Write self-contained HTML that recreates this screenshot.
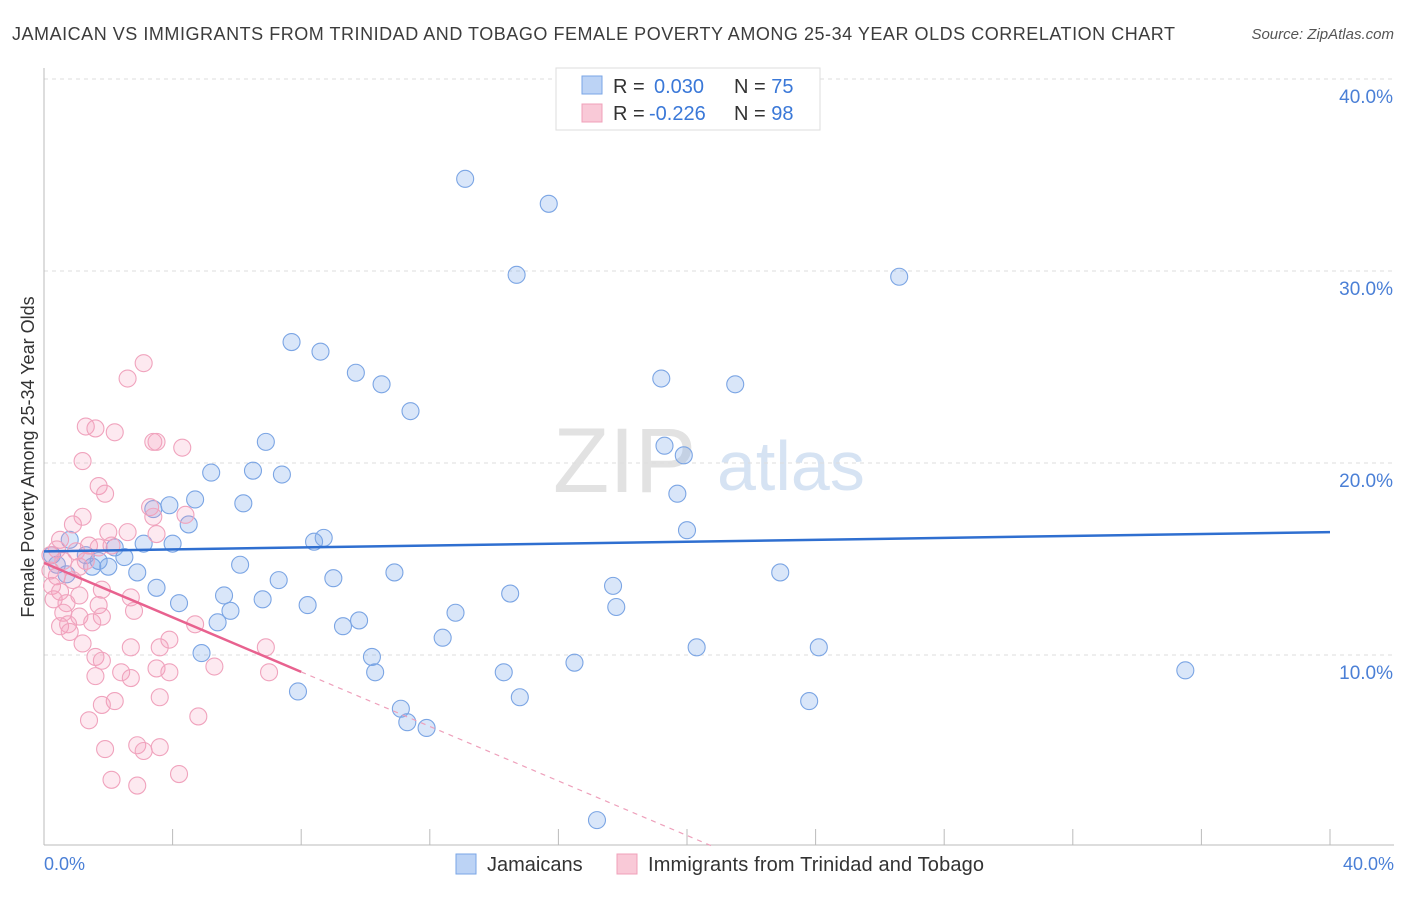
<!DOCTYPE html>
<html><head><meta charset="utf-8"><style>
body{margin:0;background:#fff;font-family:"Liberation Sans",sans-serif;}
svg text{font-family:"Liberation Sans",sans-serif;}
</style></head><body>
<svg id="chart" width="1406" height="892" viewBox="0 0 1406 892" xmlns="http://www.w3.org/2000/svg">
<text x="12" y="40" font-size="18" fill="#3c3c3c" textLength="1163" lengthAdjust="spacing">JAMAICAN VS IMMIGRANTS FROM TRINIDAD AND TOBAGO FEMALE POVERTY AMONG 25-34 YEAR OLDS CORRELATION CHART</text>
<text x="1394" y="39" font-size="15" fill="#555" text-anchor="end" font-style="italic">Source: ZipAtlas.com</text>
<g>
<text x="553" y="492" font-size="92" font-family="Liberation Serif,serif" fill="#e2e2e2">ZIP</text>
<text x="717" y="490" font-size="70" fill="#d6e3f3">atlas</text>
</g>
<g id="grid"></g>
<g id="axes"></g>
<g id="pts"></g>
<g id="trend"></g>
<text transform="translate(34,457) rotate(-90)" font-size="18" fill="#333" text-anchor="middle">Female Poverty Among 25-34 Year Olds</text>
<text x="44" y="870" font-size="18" fill="#4a7fd6">0.0%</text>
<text x="1394" y="870" font-size="18" fill="#4a7fd6" text-anchor="end">40.0%</text>
<g>
<rect x="556" y="68" width="264" height="62" fill="#fff" stroke="#ddd"/>
<rect x="582" y="76" width="20" height="18" fill="#bcd3f5" stroke="#7aa6e6"/>
<rect x="582" y="104" width="20" height="18" fill="#f9c9d7" stroke="#f0a0ba"/>
<text x="613" y="93" font-size="20" fill="#333">R = <tspan x="654" fill="#3a78d8">0.030</tspan><tspan x="734">N = </tspan><tspan fill="#3a78d8">75</tspan></text>
<text x="613" y="120" font-size="20" fill="#333">R = <tspan x="649" fill="#3a78d8">-0.226</tspan><tspan x="734">N = </tspan><tspan fill="#3a78d8">98</tspan></text>
</g>
<g>
<rect x="456" y="854" width="20" height="20" fill="#bcd3f5" stroke="#7aa6e6"/>
<text x="487" y="871" font-size="20" fill="#333">Jamaicans</text>
<rect x="617" y="854" width="20" height="20" fill="#f9c9d7" stroke="#f0a0ba"/>
<text x="648" y="871" font-size="20" fill="#333" textLength="336" lengthAdjust="spacing">Immigrants from Trinidad and Tobago</text>
</g>
</svg>
<script>
const yTicks=[10,20,30,40];
const yTickLabels=["10.0%","20.0%","30.0%","40.0%"];
const xTicks=[0,4,8,12,16,20,24,28,32,36,40];
const blueX=[13.1,15.7,14.7,26.6,7.7,8.6,9.7,10.5,19.2,21.5,11.4,6.9,19.3,19.9,5.2,6.5,7.4,19.7,4.7,6.2,3.9,3.4,4.5,20.0,3.1,4.0,8.4,8.7,0.8,2.2,2.5,1.7,2.0,6.1,2.9,10.9,22.9,7.3,9.0,3.5,17.7,5.6,14.5,4.2,6.8,8.2,5.8,17.8,12.8,5.4,9.8,9.3,12.4,20.3,24.1,4.9,10.2,16.5,10.3,14.3,35.5,7.9,14.8,23.8,11.1,11.3,11.9,17.2,0.25,0.4,0.7,1.3,1.5];
const blueY=[34.8,33.5,29.8,29.7,26.3,25.8,24.7,24.1,24.4,24.1,22.7,21.1,20.9,20.4,19.5,19.6,19.4,18.4,18.1,17.9,17.8,17.6,16.8,16.5,15.8,15.8,15.9,16.1,16.0,15.6,15.1,14.9,14.6,14.7,14.3,14.3,14.3,13.9,14.0,13.5,13.6,13.1,13.2,12.7,12.9,12.6,12.3,12.5,12.2,11.7,11.8,11.5,10.9,10.4,10.4,10.1,9.9,9.6,9.1,9.1,9.2,8.1,7.8,7.6,7.2,6.5,6.2,1.4,15.2,14.7,14.2,15.2,14.6];
const pinkX=[3.1,2.6,1.3,1.6,2.2,3.4,3.5,4.3,1.2,1.7,1.9,3.3,3.4,4.4,1.2,0.9,2.6,2.0,3.5,0.5,1.4,1.7,1.0,0.2,0.6,1.1,2.1,0.4,0.9,0.25,0.5,1.1,1.8,2.7,0.3,0.7,1.7,2.8,0.6,1.1,1.8,0.75,1.5,4.7,0.5,0.8,3.9,1.2,3.6,2.7,6.9,1.6,1.8,5.3,3.5,3.9,2.4,1.6,2.7,7.0,3.6,2.2,1.8,4.8,1.4,2.9,3.6,1.9,3.1,4.2,2.1,2.9,0.2,0.4,1.3];
const pinkY=[25.2,24.4,21.9,21.8,21.6,21.1,21.1,20.8,20.1,18.8,18.4,17.7,17.2,17.3,17.2,16.8,16.4,16.4,16.3,16.0,15.7,15.6,15.4,15.2,14.9,14.6,15.7,14.1,13.9,13.6,13.3,13.1,13.4,13.0,12.9,12.7,12.6,12.3,12.2,12.0,12.0,11.6,11.7,11.6,11.5,11.2,10.8,10.6,10.4,10.4,10.4,9.9,9.7,9.4,9.3,9.1,9.1,8.9,8.8,9.1,7.8,7.6,7.4,6.8,6.6,5.3,5.2,5.1,5.0,3.8,3.5,3.2,14.4,15.5,14.9];
const blueTrend=[15.4,16.4];
const pinkTrend=[14.8,-0.71];
const pinkSolidEnd=8;
const X=v=>44+v/40*1286, Y=v=>847-v*19.2;
const NS="http://www.w3.org/2000/svg";
function mk(parent,tag,attrs){const e=document.createElementNS(NS,tag);for(const k in attrs)e.setAttribute(k,attrs[k]);document.getElementById(parent).appendChild(e);return e;}
yTicks.forEach((t,i)=>{
 const g=mk('grid','line',{x1:44,x2:1394,y1:Y(t),y2:Y(t),stroke:'#ddd','stroke-dasharray':'4,4'});
 
 
 const l=mk('grid','text',{x:1393,y:Y(t)+24,'font-size':19,fill:'#4a7fd6','text-anchor':'end'});
 l.textContent=yTickLabels[i];
 
 
});
const ax=mk('axes','line',{x1:44,x2:44,y1:68,y2:845,stroke:'#bbb'});


const bx=mk('axes','line',{x1:44,x2:1394,y1:845,y2:845,stroke:'#bbb'});


xTicks.forEach(t=>{
 const k=mk('axes','line',{x1:X(t),x2:X(t),y1:829,y2:845,stroke:'#bbb'});
 
 
});
blueX.forEach((v,i)=>{
 const c=mk('pts','circle',{cx:X(v),cy:Y(blueY[i]),r:8.5,fill:'rgba(120,165,235,0.28)',stroke:'#7ba5e4','stroke-width':1.1});
 
 
});
pinkX.forEach((v,i)=>{
 const c=mk('pts','circle',{cx:X(v),cy:Y(pinkY[i]),r:8.5,fill:'rgba(245,155,185,0.22)',stroke:'#f0a3bd','stroke-width':1.1});
 
 
});
const bt=mk('trend','line',{x1:X(0),y1:Y(blueTrend[0]),x2:X(40),y2:Y(blueTrend[1]),stroke:'#2f6fd0','stroke-width':2.5});


const pf=x=>pinkTrend[0]+pinkTrend[1]*x;
const ps=mk('trend','line',{x1:X(0),y1:Y(pf(0)),x2:X(pinkSolidEnd),y2:Y(pf(pinkSolidEnd)),stroke:'#e8628f','stroke-width':2.5});


const xEnd=-pinkTrend[0]/pinkTrend[1];
const pd=mk('trend','line',{x1:X(pinkSolidEnd),y1:Y(pf(pinkSolidEnd)),x2:X(xEnd),y2:Y(pf(xEnd)),stroke:'#eea0bb','stroke-width':1.2,'stroke-dasharray':'5,5'});


</script>
</body></html>
